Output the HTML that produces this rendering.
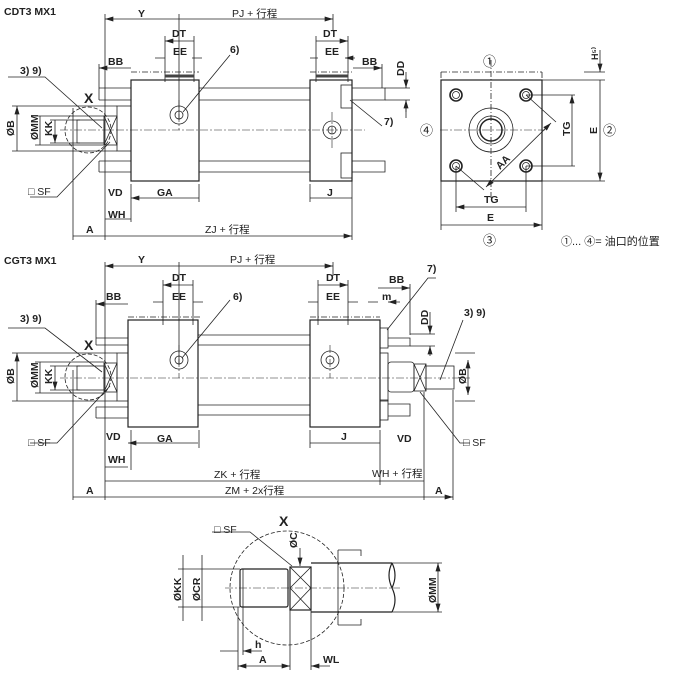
<!DOCTYPE html>
<html><head><meta charset="utf-8"><style>
body{margin:0;background:#fff}
svg{display:block}
text{font-family:"Liberation Sans","Noto Sans CJK SC",sans-serif;font-size:10.5px;font-weight:bold;fill:#222}
.t{font-weight:normal}
</style></head><body>
<svg width="692" height="680" viewBox="0 0 692 680" xmlns="http://www.w3.org/2000/svg">
<defs>
<marker id="a" viewBox="0 0 10 6" refX="10" refY="3" markerWidth="9" markerHeight="5" orient="auto-start-reverse" markerUnits="userSpaceOnUse"><path d="M0,0L10,3L0,6z" fill="#222"/></marker>
</defs>
<g stroke="#222" fill="none" stroke-width="0.8">
<path d="M105 14V240M179 14V120M333 14V30M73 108V240M352 180V240M131 184V222M199 184V202M310 184V202M99 64V88"/>
<path d="M105 19H179M179 19H333" marker-start="url(#a)" marker-end="url(#a)"/>
<path d="M165 41H194M316 41H348" marker-start="url(#a)" marker-end="url(#a)"/>
<path d="M165 36V82M194 36V82M316 36V82M348 36V82"/>
<path d="M155 58H165M202 58H192M310 58H318M355 58H345" marker-end="url(#a)"/>
<path d="M99 68H131M353 68H382" marker-start="url(#a)" marker-end="url(#a)"/>
<path d="M382 64V88M406 72V88M406 108V118"/>
<path d="M406 78V88" marker-end="url(#a)"/><path d="M406 112V100" marker-end="url(#a)"/>
<path d="M385 88H410M385 100H410"/>
<path d="M131 198H199M310 198H352M105 219H131M73 236H105M105 236H352" marker-start="url(#a)" marker-end="url(#a)"/>
<path d="M17 106V151M40 116V145M55 120V143" marker-start="url(#a)" marker-end="url(#a)"/>
<path d="M12 106H117M35 116H104M50 120H80M50 143H80M35 145H104M12 151H117"/>
<rect x="131" y="80" width="68" height="101" stroke-width="1.2"/>
<rect x="310" y="80" width="42" height="101" stroke-width="1.2"/>
<path d="M131 72H199M310 72H352" stroke-dasharray="6 2 1 2"/>
<path d="M165 76H194M316 76H348" stroke-width="3" stroke="#444"/>
<path d="M99 88H131M99 100H131M99 88V100M99 161H131M99 172H131M99 161V172M199 88H310M199 100H310M199 161H310M199 172H310M352 88H385V100H352M352 161H385V172H352"/>
<rect x="341" y="85" width="11" height="23"/><rect x="341" y="153" width="11" height="25"/>
<rect x="117" y="106" width="14" height="45"/>
<rect x="104" y="116" width="13" height="29"/>
<path d="M104 116L117 145M104 145L117 116"/>
<rect x="77" y="120" width="27" height="23"/>
<circle cx="88" cy="130" r="23" stroke-dasharray="4 2"/>
<path d="M60 130H365M179 100V130M332 112V150M440 130H545" stroke-dasharray="8 2 2 2" stroke-width="0.6"/>
<circle cx="179" cy="115" r="9"/><circle cx="179" cy="115" r="4"/>
<circle cx="332" cy="130" r="9"/><circle cx="332" cy="130" r="4"/>
<path d="M8 77H45L102 128M30 197H57L110 142M230 55L183 112M382 126L350 100"/>
<rect x="441" y="80" width="101" height="101" stroke-width="1.2"/>
<path d="M441 72H542M441 72V80M542 72V80M491 60V200" stroke-dasharray="6 2 1 2"/>
<g stroke-width="1.6"><circle cx="456" cy="95" r="6"/><circle cx="526" cy="95" r="6"/><circle cx="456" cy="166" r="6"/><circle cx="526" cy="166" r="6"/></g>
<circle cx="456" cy="95" r="3.5"/><circle cx="526" cy="95" r="3.5"/><circle cx="456" cy="166" r="3.5"/><circle cx="526" cy="166" r="3.5"/>
<circle cx="491" cy="130" r="22"/><circle cx="491" cy="130" r="14"/><circle cx="491" cy="130" r="11" stroke-width="1.5"/>
<path d="M542 80H605M526 95H575M526 166H575M542 181H605M584 72H605"/>
<path d="M572 95V166M600 80V181" marker-start="url(#a)" marker-end="url(#a)"/>
<path d="M600 50V72" marker-end="url(#a)"/>
<path d="M441 181V230M542 181V230M456 166V212M526 166V212"/>
<path d="M456 207H526M441 225H542" marker-start="url(#a)" marker-end="url(#a)"/>
<path d="M526 95L556 122M456 166L484 190"/>
<path d="M551 123L486 187" marker-start="url(#a)" marker-end="url(#a)"/>
<path d="M105 262V500M179 262V365M333 262V276M73 370V500M424 392V500M453 390V500M380 430V485M131 430V470M199 430V448M310 430V448M96 300V338M410 284V335"/>
<path d="M105 266H179M179 266H333" marker-start="url(#a)" marker-end="url(#a)"/>
<path d="M163 285H193M318 285H348" marker-start="url(#a)" marker-end="url(#a)"/>
<path d="M163 280V325M193 280V325M318 280V325M348 280V325"/>
<path d="M153 302H163M203 302H193M308 302H318M358 302H348M368 302H378M400 302H388" marker-end="url(#a)"/>
<path d="M96 304H128M378 288H410" marker-start="url(#a)" marker-end="url(#a)"/>
<path d="M430 312V334" marker-end="url(#a)"/><path d="M430 356V346" marker-end="url(#a)"/>
<path d="M410 334H435M410 346H435"/>
<path d="M128 443H198M310 443H380M105 467H128M105 481H380M380 481H424M73 497H105M105 497H424M424 497H453" marker-start="url(#a)" marker-end="url(#a)"/>
<path d="M17 353V401M40 362V393M55 366V390" marker-start="url(#a)" marker-end="url(#a)"/>
<path d="M12 353H117M35 362H104M50 366H80M50 390H80M35 393H104M12 401H117M455 353H475M455 401H475"/>
<path d="M468 360V395" marker-start="url(#a)" marker-end="url(#a)"/>
<rect x="128" y="320" width="70" height="107" stroke-width="1.2"/>
<rect x="310" y="320" width="70" height="107" stroke-width="1.2"/>
<path d="M128 317H200M310 317H380" stroke-dasharray="6 2 1 2"/>
<path d="M96 338H128M96 345H128M96 338V345M96 407H128M96 418H128M96 407V418M198 335H310M198 345H310M198 405H310M198 415H310M388 338H410V346H388M388 404H410V416H388"/>
<rect x="380" y="328" width="8" height="20"/><rect x="380" y="400" width="8" height="20"/>
<rect x="117" y="353" width="11" height="48"/>
<rect x="104" y="363" width="13" height="29"/><path d="M104 363L117 392M104 392L117 363"/>
<rect x="77" y="366" width="27" height="24"/>
<circle cx="88" cy="377" r="23" stroke-dasharray="4 2"/>
<rect x="380" y="353" width="8" height="48"/>
<rect x="388" y="362" width="26" height="30" rx="3"/>
<rect x="414" y="364" width="12" height="27"/><path d="M414 364L426 391M414 391L426 364"/>
<rect x="426" y="366" width="28" height="23"/>
<path d="M60 378H470M179 345V378M330 345V378" stroke-dasharray="8 2 2 2" stroke-width="0.6"/>
<circle cx="179" cy="360" r="9"/><circle cx="179" cy="360" r="4"/>
<circle cx="330" cy="360" r="9"/><circle cx="330" cy="360" r="4"/>
<path d="M8 328H45L102 372M30 443H57L110 386M230 300L182 358M436 278H428L387 330M463 320L440 380M470 443L460 443L420 392"/>
<circle cx="287" cy="588" r="57" stroke-dasharray="4 2"/>
<rect x="240" y="569" width="48" height="38" rx="2" stroke-width="1.2"/>
<path d="M243 569V607"/>
<rect x="290" y="567" width="21" height="43" stroke-width="1.2"/>
<path d="M290 567L311 588M290 588L311 567M290 588L311 610M290 610L311 588"/>
<path d="M311 563H392M311 612H392M392 563Q386 575 392 588Q398 600 392 612M392 563Q398 575 392 588" stroke-width="1.2"/>
<path d="M225 588H400" stroke-dasharray="8 2 2 2" stroke-width="0.6"/>
<path d="M178 569H240M178 607H240M392 563H442M392 612H442"/>
<path d="M183 555V569M183 621V607M202 555V569M202 621V607M300 548V566" marker-end="url(#a)"/>
<path d="M183 569V607M202 569V607"/>
<path d="M438 563V612" marker-start="url(#a)" marker-end="url(#a)"/>
<path d="M338 550H361V556M338 625H361V619M338 550V625"/>
<path d="M238 607V670M243 607V655M290 610V670M311 610V670"/>
<path d="M220 651H238M262 651H243" marker-end="url(#a)"/>
<path d="M238 666H290" marker-start="url(#a)" marker-end="url(#a)"/>
<path d="M330 666H311" marker-end="url(#a)"/>
<path d="M212 532H250L292 566"/>
</g>
<text x="4" y="15">CDT3 MX1</text>
<text x="138" y="17">Y</text>
<text x="232" y="17" class="t">PJ + 行程</text>
<text x="172" y="37">DT</text><text x="323" y="37">DT</text>
<text x="173" y="55">EE</text><text x="325" y="55">EE</text>
<text x="108" y="65">BB</text><text x="362" y="65">BB</text>
<text x="230" y="53">6)</text>
<text x="20" y="74">3) 9)</text>
<text x="84" y="103" style="font-size:14px">X</text>
<text x="384" y="125">7)</text>
<text x="108" y="196">VD</text><text x="157" y="196">GA</text><text x="327" y="196">J</text>
<text x="108" y="218">WH</text>
<text x="86" y="233">A</text><text x="205" y="233" class="t">ZJ + 行程</text>
<text x="28" y="195" class="t">□ SF</text>
<text transform="translate(14,136) rotate(-90)">ØB</text>
<text transform="translate(38,140) rotate(-90)">ØMM</text>
<text transform="translate(52,136) rotate(-90)">KK</text>
<text transform="translate(404,76) rotate(-90)">DD</text>
<text x="483" y="66" class="t" style="font-size:13px">①</text>
<text x="420" y="135" class="t" style="font-size:13px">④</text>
<text x="603" y="135" class="t" style="font-size:13px">②</text>
<text x="483" y="245" class="t" style="font-size:13px">③</text>
<text transform="translate(598,60) rotate(-90)" style="font-size:9px">H⁵⁾</text>
<text transform="translate(570,136) rotate(-90)">TG</text>
<text transform="translate(597,134) rotate(-90)">E</text>
<text x="484" y="203">TG</text><text x="487" y="221">E</text>
<text transform="translate(500,170) rotate(-45)">AA</text>
<text x="561" y="245" class="t" style="font-size:11px">①... ④= 油口的位置</text>
<text x="4" y="264">CGT3 MX1</text>
<text x="138" y="263">Y</text>
<text x="230" y="263" class="t">PJ + 行程</text>
<text x="172" y="281">DT</text><text x="326" y="281">DT</text>
<text x="172" y="300">EE</text><text x="326" y="300">EE</text>
<text x="106" y="300">BB</text><text x="389" y="283">BB</text>
<text x="382" y="300">m</text>
<text x="233" y="300">6)</text>
<text x="427" y="272">7)</text>
<text x="20" y="322">3) 9)</text><text x="464" y="316">3) 9)</text>
<text x="84" y="350" style="font-size:14px">X</text>
<text x="106" y="440">VD</text><text x="157" y="442">GA</text><text x="341" y="440">J</text><text x="397" y="442">VD</text>
<text x="108" y="463">WH</text>
<text x="214" y="478" class="t">ZK + 行程</text>
<text x="372" y="477" class="t">WH + 行程</text>
<text x="225" y="494" class="t">ZM + 2x行程</text>
<text x="86" y="494">A</text><text x="435" y="494">A</text>
<text x="28" y="446" class="t">□ SF</text><text x="463" y="446" class="t">□ SF</text>
<text transform="translate(14,384) rotate(-90)">ØB</text>
<text transform="translate(38,388) rotate(-90)">ØMM</text>
<text transform="translate(52,384) rotate(-90)">KK</text>
<text transform="translate(466,384) rotate(-90)">ØB</text>
<text transform="translate(428,325) rotate(-90)">DD</text>
<text x="279" y="526" style="font-size:14px">X</text>
<text x="214" y="533" class="t">□ SF</text>
<text transform="translate(297,548) rotate(-90)">ØC</text>
<text transform="translate(181,601) rotate(-90)">ØKK</text>
<text transform="translate(200,601) rotate(-90)">ØCR</text>
<text transform="translate(436,603) rotate(-90)">ØMM</text>
<text x="255" y="648">h</text>
<text x="259" y="663">A</text>
<text x="323" y="663">WL</text>
</svg>
</body></html>
